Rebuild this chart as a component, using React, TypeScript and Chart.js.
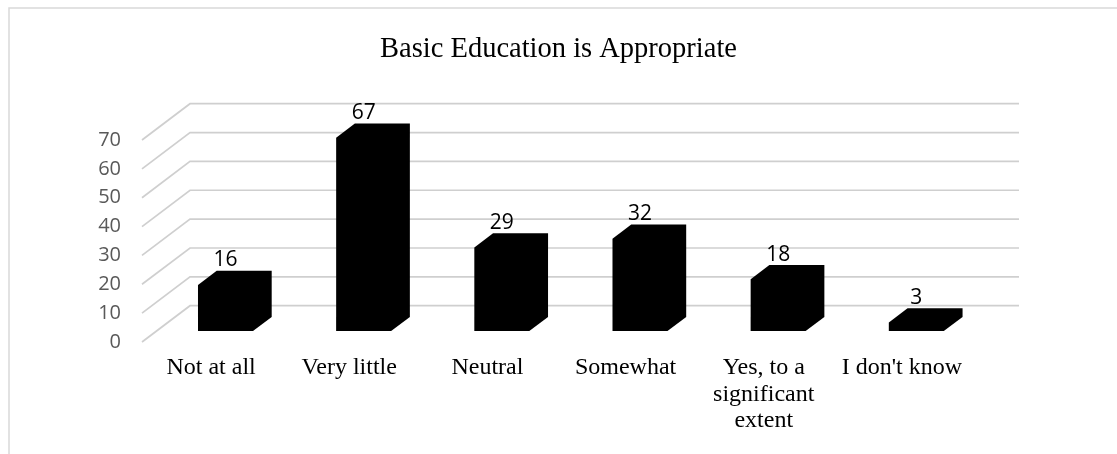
import { useEffect, useRef } from "react";
import { Chart, registerables } from "chart.js";

Chart.register(...registerables);

// Survey answers and counts
const categories: (string | string[])[] = [
  "Not at all",
  "Very little",
  "Neutral",
  "Somewhat",
  ["Yes, to a", "significant", "extent"],
  "I don't know",
];
const responses = [16, 67, 29, 32, 18, 3];
const yTicks = [0, 10, 20, 30, 40, 50, 60, 70];
const chartTitle = "Basic Education is Appropriate";

// Oblique projection of the floor depth (front edge -> back wall)
const DEPTH_DX = 48;
const DEPTH_DY = -36.3;
// Where the columns sit inside that depth (fractions of it)
const COL_FRONT = 0.3;
const COL_BACK = 0.69;

const W = 1117;
const H = 454;

const depthPlugin = {
  id: "depth3d",
  beforeDraw(chart: any) {
    const { ctx } = chart;
    ctx.save();
    ctx.fillStyle = "#ffffff";
    ctx.fillRect(0, 0, chart.width, chart.height);
    // outer frame of the chart object
    ctx.strokeStyle = "#d9d9d9";
    ctx.lineWidth = 1.5;
    ctx.beginPath();
    ctx.moveTo(9, chart.height);
    ctx.lineTo(9, 8);
    ctx.lineTo(chart.width, 8);
    ctx.stroke();
    ctx.restore();
  },
  beforeDatasetsDraw(chart: any) {
    const { ctx, chartArea } = chart;
    const yScale = chart.scales.y;
    const backRight = chartArea.right + DEPTH_DX;
    ctx.save();
    ctx.strokeStyle = "#cfcfcf";
    ctx.lineWidth = 1.7;
    for (const v of yTicks) {
      const py = yScale.getPixelForValue(v);
      ctx.beginPath();
      ctx.moveTo(chartArea.left, py);
      ctx.lineTo(chartArea.left + DEPTH_DX, py + DEPTH_DY);
      ctx.lineTo(backRight, py + DEPTH_DY);
      ctx.stroke();
    }
    ctx.restore();
  },
  afterDatasetsDraw(chart: any) {
    const { ctx } = chart;
    const yScale = chart.scales.y;
    const meta = chart.getDatasetMeta(0);
    const base = yScale.getPixelForValue(0);
    const fx = DEPTH_DX * COL_FRONT;
    const fy = DEPTH_DY * COL_FRONT;
    const dx = DEPTH_DX * (COL_BACK - COL_FRONT);
    const dy = DEPTH_DY * (COL_BACK - COL_FRONT);
    ctx.save();
    meta.data.forEach((bar: any, i: number) => {
      const { x, y, width } = bar.getProps(["x", "y", "width"], true);
      const l = x - width / 2 + fx;
      const r = x + width / 2 + fx;
      const top = y + fy;
      const bottom = base + fy;
      ctx.fillStyle = "#000000";
      ctx.beginPath();
      ctx.moveTo(l, bottom);
      ctx.lineTo(l, top);
      ctx.lineTo(l + dx, top + dy);
      ctx.lineTo(r + dx, top + dy);
      ctx.lineTo(r + dx, bottom + dy);
      ctx.lineTo(r, bottom);
      ctx.closePath();
      ctx.fill();

      ctx.font = "21px 'Open Sans'";
      ctx.textAlign = "center";
      ctx.textBaseline = "alphabetic";
      ctx.fillStyle = "#000000";
      ctx.fillText(String(responses[i]), (l + r) / 2, top + dy - 4.5);
    });
    ctx.restore();
  },
};

export default function App() {
  const canvasRef = useRef<HTMLCanvasElement | null>(null);

  useEffect(() => {
    if (!canvasRef.current) return;
    const chart = new Chart(canvasRef.current, {
      type: "bar",
      data: {
        labels: categories,
        datasets: [
          {
            data: responses,
            backgroundColor: "rgba(0,0,0,0)",
            borderWidth: 0,
            barPercentage: 0.398,
            categoryPercentage: 1,
          },
        ],
      },
      options: {
        responsive: false,
        animation: false,
        devicePixelRatio: 1,
        layout: { padding: 0 },
        plugins: {
          legend: { display: false },
          tooltip: { enabled: false },
          title: {
            display: true,
            text: chartTitle,
            color: "#000000",
            font: { family: "'Liberation Serif'", size: 28.5, weight: "normal", lineHeight: 1.2 },
            padding: { top: 32, bottom: 73.8 },
          },
        },
        scales: {
          x: {
            grid: { display: false, drawTicks: false },
            border: { display: false },
            ticks: {
              color: "#000000",
              font: { family: "'Liberation Serif'", size: 24, lineHeight: 1.1 },
              padding: 13,
              maxRotation: 0,
              autoSkip: false,
            },
            afterFit(scale: any) {
              scale.height = 112;
            },
          },
          y: {
            min: 0,
            max: 70,
            grid: { display: false, drawTicks: false },
            border: { display: false },
            ticks: {
              stepSize: 10,
              color: "#595959",
              font: { family: "'Open Sans'", size: 20 },
              padding: 21,
            },
            afterFit(scale: any) {
              scale.width = 142;
            },
          },
          // empty right-hand strip that holds the back wall's depth
          side: {
            type: "linear",
            position: "right",
            display: true,
            grid: { display: false, drawTicks: false },
            border: { display: false },
            ticks: { display: false },
            afterFit(scale: any) {
              scale.width = 146;
            },
          },
        },
      },
      plugins: [depthPlugin],
    });
    return () => chart.destroy();
  }, []);

  return (
    <div style={{ position: "absolute", left: 0, top: 0, width: W, height: H, background: "#fff" }}>
      <canvas ref={canvasRef} width={W} height={H} style={{ display: "block" }} />
    </div>
  );
}
